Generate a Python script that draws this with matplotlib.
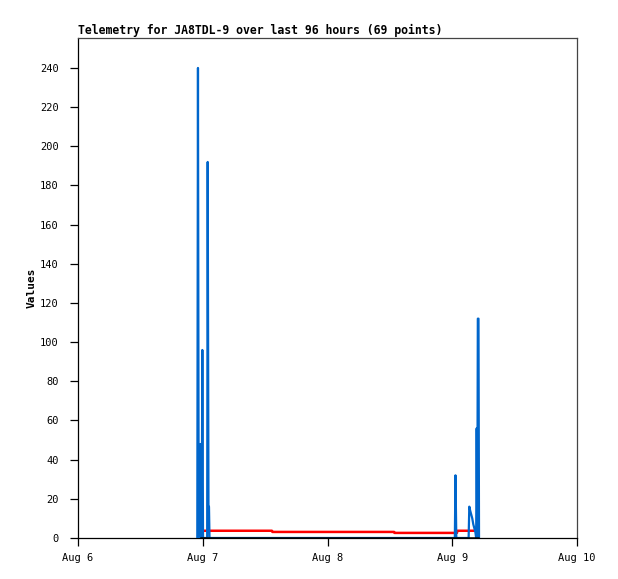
import matplotlib
matplotlib.use("Agg")
import matplotlib.pyplot as plt

# hours since Aug 6 00:00
blue_t = [22.95, 23.08, 23.22, 23.35, 23.48, 23.58, 23.70, 23.80, 23.92, 24.05,
          24.85, 24.95, 25.10, 25.20, 25.30,
          72.50, 72.62, 72.78,
          75.15, 75.28, 75.45, 75.65, 75.85, 76.05, 76.25, 76.45, 76.60,
          76.70, 76.82, 76.92, 77.05, 77.15]
blue_v = [0, 240, 0, 24, 0, 48, 24, 0, 96, 0,
          0, 192, 16, 16, 0,
          0, 32, 0,
          0, 16, 14, 12, 10, 7, 5, 3, 0,
          56, 0, 112, 112, 0]

red_t = [24.0, 37.3, 37.4, 60.8, 60.9, 72.9, 73.0, 77.0]
red_v = [3.7, 3.7, 3.1, 3.1, 2.6, 2.6, 3.7, 3.7]

black_t = [23.6, 77.0]
black_v = [0, 0]

x_ticks = [0, 24, 48, 72, 96]
x_labels = ["Aug 6", "Aug 7", "Aug 8", "Aug 9", "Aug 10"]
y_ticks = list(range(0, 241, 20))

title = "Telemetry for JA8TDL-9 over last 96 hours (69 points)"

plt.rcParams["font.family"] = ["DejaVu Sans Mono"]

fig = plt.figure(figsize=(6.18, 5.79), dpi=100)
ax = fig.add_axes([78 / 618, 41 / 579, 499 / 618, 500 / 579])

ax.plot(red_t, red_v, color="#ff0000", lw=1.8, zorder=2)
ax.plot(blue_t, blue_v, color="#0066cc", lw=1.6, zorder=3)
ax.plot(black_t, black_v, color="#000000", lw=1.8, zorder=4)

ax.set_xlim(0, 96)
ax.set_ylim(0, 255.3)
ax.set_xticks(x_ticks)
ax.set_xticklabels(x_labels)
ax.set_yticks(y_ticks)

for side in ["top", "right"]:
    ax.spines[side].set_color("#444444")
for side in ["left", "bottom"]:
    ax.spines[side].set_color("#000000")
for s in ax.spines.values():
    s.set_linewidth(0.9)

ax.tick_params(axis="both", direction="out", length=6, width=0.9,
               labelsize=7.5, colors="#000000")
ax.tick_params(axis="x", pad=5)
ax.tick_params(axis="y", pad=8)

ax.set_ylabel("Values", fontsize=8, fontweight="bold", labelpad=2)
ax.set_title(title, fontsize=8.3, fontweight="bold", loc="left", pad=3)

fig.savefig("out.png", dpi=100)
